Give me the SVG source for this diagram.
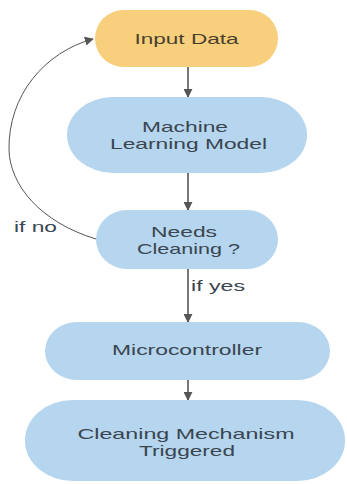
<svg xmlns="http://www.w3.org/2000/svg" width="347" height="484" viewBox="0 0 347 484">
  <defs>
    <marker id="arrow" viewBox="0 0 10 10" refX="9" refY="5" markerWidth="9" markerHeight="9" markerUnits="userSpaceOnUse" orient="auto">
      <path d="M0,0 L10,5 L0,10 z" fill="#555"/>
    </marker>
    <style>
      .blue { fill: #b5d6ee; }
      .orange { fill: #f8cf7c; }
      .label { font-family: "Liberation Sans", Arial, sans-serif; font-size: 15px; fill: #3b4550; text-anchor: middle; }
      .label-warm { fill: #4a4030; }
      .edge-label { font-family: "Liberation Sans", Arial, sans-serif; font-size: 15px; fill: #3b4550; }
      .edge { fill: none; stroke: #555; stroke-width: 1.6; marker-end: url(#arrow); }
      .loop { fill: none; stroke: #555; stroke-width: 1; marker-end: url(#arrow); }
    </style>
  </defs>
  <rect width="347" height="484" fill="#ffffff"/>

  <g id="connectors">
    <line class="edge" x1="188" y1="67" x2="188" y2="97"/>
    <line class="edge" x1="188" y1="173" x2="188" y2="210"/>
    <line class="edge" x1="188" y1="269" x2="188" y2="322"/>
    <line class="edge" x1="188" y1="380" x2="188" y2="400"/>
    <path class="loop" d="M96,239 C40,222 10,185 9,150 C8,95 45,52 93,39"/>
    <text class="edge-label" x="14" y="232" textLength="43" lengthAdjust="spacingAndGlyphs">if no</text>
    <text class="edge-label" x="191" y="291" textLength="54" lengthAdjust="spacingAndGlyphs">if yes</text>
  </g>

  <g id="input-data">
    <rect class="orange" x="95" y="10" width="183" height="57" rx="28.5"/>
    <text class="label label-warm" x="186.5" y="44" textLength="104" lengthAdjust="spacingAndGlyphs">Input Data</text>
  </g>

  <g id="ml-model">
    <rect class="blue" x="67" y="97" width="240" height="76" rx="46" ry="38"/>
    <text class="label" x="185" y="132" textLength="86" lengthAdjust="spacingAndGlyphs">Machine</text>
    <text class="label" x="188.5" y="149" textLength="157" lengthAdjust="spacingAndGlyphs">Learning Model</text>
  </g>

  <g id="needs-cleaning">
    <rect class="blue" x="96" y="210" width="182" height="59" rx="31" ry="29.5"/>
    <text class="label" x="184" y="237" textLength="66" lengthAdjust="spacingAndGlyphs">Needs</text>
    <text class="label" x="188.5" y="254" textLength="103" lengthAdjust="spacingAndGlyphs">Cleaning ?</text>
  </g>

  <g id="microcontroller">
    <rect class="blue" x="45" y="322" width="285" height="58" rx="32" ry="29"/>
    <text class="label" x="187" y="355" textLength="150" lengthAdjust="spacingAndGlyphs">Microcontroller</text>
  </g>

  <g id="cleaning-mechanism">
    <rect class="blue" x="25" y="400" width="320" height="81" rx="48" ry="40"/>
    <text class="label" x="186" y="439" textLength="217" lengthAdjust="spacingAndGlyphs">Cleaning Mechanism</text>
    <text class="label" x="187" y="456" textLength="96" lengthAdjust="spacingAndGlyphs">Triggered</text>
  </g>
</svg>
